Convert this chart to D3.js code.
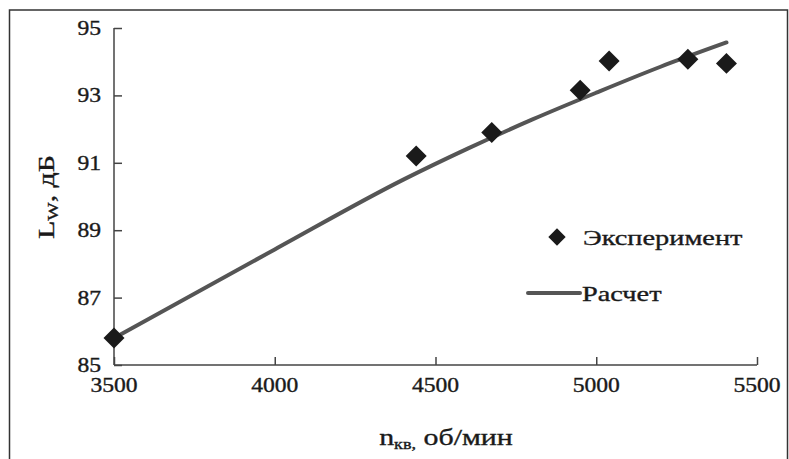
<!DOCTYPE html>
<html>
<head>
<meta charset="utf-8">
<script src="https://cdn.jsdelivr.net/npm/d3@7"></script>
<style>
  html, body { margin: 0; padding: 0; background: #fff; }
  text { font-family: "Liberation Serif", "Times New Roman", serif; fill: #1a1a1a; stroke: #1a1a1a; stroke-width: 0.35; }
</style>
</head>
<body>
<svg id="chart" width="789" height="459"></svg>
<script>
// Experimental data
const expRpm = [3500, 4440, 4675, 4950, 5040, 5285, 5405];
const expL   = [85.8, 91.2, 91.9, 93.15, 94.02, 94.07, 93.95];
// Calculated curve
const calcRpm = [3500, 4000, 4400, 4600, 4800, 5000, 5200, 5405];
const calcL   = [85.8, 88.43, 90.5, 91.42, 92.28, 93.08, 93.85, 94.57];
// Ticks
const xTicks = [3500, 4000, 4500, 5000, 5500];
const yTicks = [85, 87, 89, 91, 93, 95];
const legendLabels = ["Эксперимент", "Расчет"];

(function () {
const svg = d3.select("#chart");
const pL = 114, pR = 757, pT = 28, pB = 365;

// outer frame
svg.append("rect").attr("x", 9.5).attr("y", 10).attr("width", 778).attr("height", 460)
  .attr("fill", "none").attr("stroke", "#333").attr("stroke-width", 1.5);

const x = d3.scaleLinear().domain([3500, 5500]).range([pL, pR]);
const y = d3.scaleLinear().domain([85, 95]).range([pB, pT]);

const sx = 1.18; // horizontal stretch of text

// X axis
const xAxis = svg.append("g").attr("transform", `translate(0,${pB})`)
  .call(d3.axisBottom(x).tickValues(xTicks).tickSizeInner(-8).tickSizeOuter(0).tickPadding(0).tickFormat(""));
xAxis.selectAll("path, line").attr("stroke", "#444").attr("stroke-width", 1.5);
xAxis.select("path").attr("d", `M${pL},0H${pR}`);

// Y axis
const yAxis = svg.append("g").attr("transform", `translate(${pL},0)`)
  .call(d3.axisLeft(y).tickValues(yTicks).tickSizeInner(-8).tickSizeOuter(0).tickFormat(""));
yAxis.selectAll("path, line").attr("stroke", "#444").attr("stroke-width", 1.5);
yAxis.select("path").attr("d", `M0,${pT}V${pB}`);

// tick labels
svg.append("g").selectAll("text").data(xTicks).join("text")
  .attr("transform", d => `translate(${x(d)},${pB + 27}) scale(${sx},1)`)
  .attr("text-anchor", "middle").attr("font-size", 20).text(d => d);
svg.append("g").selectAll("text").data(yTicks).join("text")
  .attr("transform", d => `translate(${pL - 13},${y(d) + 7}) scale(${sx},1)`)
  .attr("text-anchor", "end").attr("font-size", 20).text(d => d);

// axis titles
const xt = svg.append("text")
  .attr("transform", `translate(446,${pB + 80}) scale(1.3,1)`)
  .attr("text-anchor", "middle").attr("font-size", 23);
xt.append("tspan").text("n");
xt.append("tspan").attr("font-size", 14).attr("dy", 4).text("кв,");
xt.append("tspan").attr("dy", -4).text(" об/мин");

const yt = svg.append("text")
  .attr("transform", `translate(54,197) rotate(-90) scale(1.3,1)`)
  .attr("text-anchor", "middle").attr("font-size", 23);
yt.append("tspan").text("L");
yt.append("tspan").attr("font-size", 15).attr("dy", 4).text("W");
yt.append("tspan").attr("dy", -4).text(", дБ");

// calc line
const line = d3.line().x(d => x(d[0])).y(d => y(d[1])).curve(d3.curveMonotoneX);
svg.append("path").datum(calcRpm.map((r, i) => [r, calcL[i]]))
  .attr("d", line).attr("fill", "none").attr("stroke", "#555").attr("stroke-width", 4)
  .attr("stroke-linecap", "round");

// diamonds
const diamond = d3.symbol().type(d3.symbolSquare).size(220);
svg.append("g").selectAll("path").data(expRpm.map((r, i) => [r, expL[i]])).join("path")
  .attr("d", diamond)
  .attr("transform", d => `translate(${x(d[0])},${y(d[1])}) rotate(45)`)
  .attr("fill", "#1a1a1a");

// legend
svg.append("path").attr("d", d3.symbol().type(d3.symbolSquare).size(150))
  .attr("transform", "translate(557,237) rotate(45)").attr("fill", "#1a1a1a");
svg.append("text").attr("transform", `translate(583,245) scale(1.35,1)`)
  .attr("font-size", 21).text(legendLabels[0]);
svg.append("line").attr("x1", 528).attr("x2", 580).attr("y1", 293).attr("y2", 293)
  .attr("stroke", "#555").attr("stroke-width", 4).attr("stroke-linecap", "round");
svg.append("text").attr("transform", `translate(582,301) scale(1.35,1)`)
  .attr("font-size", 21).text(legendLabels[1]);
})();
</script>
</body>
</html>
